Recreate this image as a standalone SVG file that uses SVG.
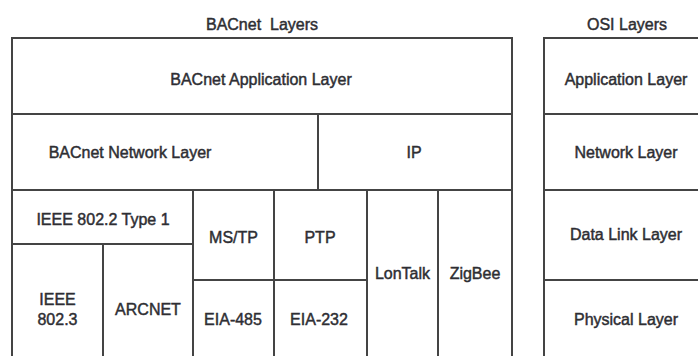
<svg xmlns="http://www.w3.org/2000/svg" width="698" height="356" viewBox="0 0 698 356">
<style>
.c{fill:#fff;stroke:#444;stroke-width:2}
.t{font-family:"Liberation Sans",Arial,Helvetica,sans-serif;font-size:16px;fill:#2e2e33;text-anchor:middle;stroke:#2e2e33;stroke-width:0.45}
.h{white-space:pre}
</style>
<rect width="698" height="356" fill="#fff"/>
<g id="titles">
<text class="t h" x="262" y="30" xml:space="preserve">BACnet  Layers</text>
<text class="t" x="627" y="30">OSI Layers</text>
</g>
<g id="bacnet-app"><rect class="c" x="12" y="38" width="500" height="76"/><text class="t" x="261" y="85">BACnet Application Layer</text></g>
<g id="bacnet-net"><rect class="c" x="12" y="114" width="306" height="76"/><text class="t" x="130" y="158">BACnet Network Layer</text></g>
<g id="ip"><rect class="c" x="318" y="114" width="194" height="76"/><text class="t" x="414" y="158">IP</text></g>
<g id="ieee8022"><rect class="c" x="12" y="190" width="181" height="54"/><text class="t" x="103" y="225">IEEE 802.2 Type 1</text></g>
<g id="ieee8023"><rect class="c" x="12" y="244" width="91" height="120"/><text class="t" x="57.5" y="305">IEEE</text><text class="t" x="57.5" y="325">802.3</text></g>
<g id="arcnet"><rect class="c" x="103" y="244" width="90" height="120"/><text class="t" x="148" y="315">ARCNET</text></g>
<g id="mstp"><rect class="c" x="193" y="190" width="81" height="90"/><text class="t" x="233.5" y="243">MS/TP</text></g>
<g id="ptp"><rect class="c" x="274" y="190" width="93" height="90"/><text class="t" x="320" y="243">PTP</text></g>
<g id="eia485"><rect class="c" x="193" y="280" width="81" height="84"/><text class="t" x="233" y="325">EIA-485</text></g>
<g id="eia232"><rect class="c" x="274" y="280" width="93" height="84"/><text class="t" x="319" y="325">EIA-232</text></g>
<g id="lontalk"><rect class="c" x="367" y="190" width="71" height="174"/><text class="t" x="402.5" y="279">LonTalk</text></g>
<g id="zigbee"><rect class="c" x="438" y="190" width="74" height="174"/><text class="t" x="475" y="279">ZigBee</text></g>
<g id="osi-app"><rect class="c" x="544" y="38" width="170" height="76"/><text class="t" x="626" y="85">Application Layer</text></g>
<g id="osi-net"><rect class="c" x="544" y="114" width="170" height="76"/><text class="t" x="626" y="158">Network Layer</text></g>
<g id="osi-dl"><rect class="c" x="544" y="190" width="170" height="90"/><text class="t" x="626" y="240">Data Link Layer</text></g>
<g id="osi-phy"><rect class="c" x="544" y="280" width="170" height="84"/><text class="t" x="626" y="325">Physical Layer</text></g>
<g id="connectors"/>
</svg>
